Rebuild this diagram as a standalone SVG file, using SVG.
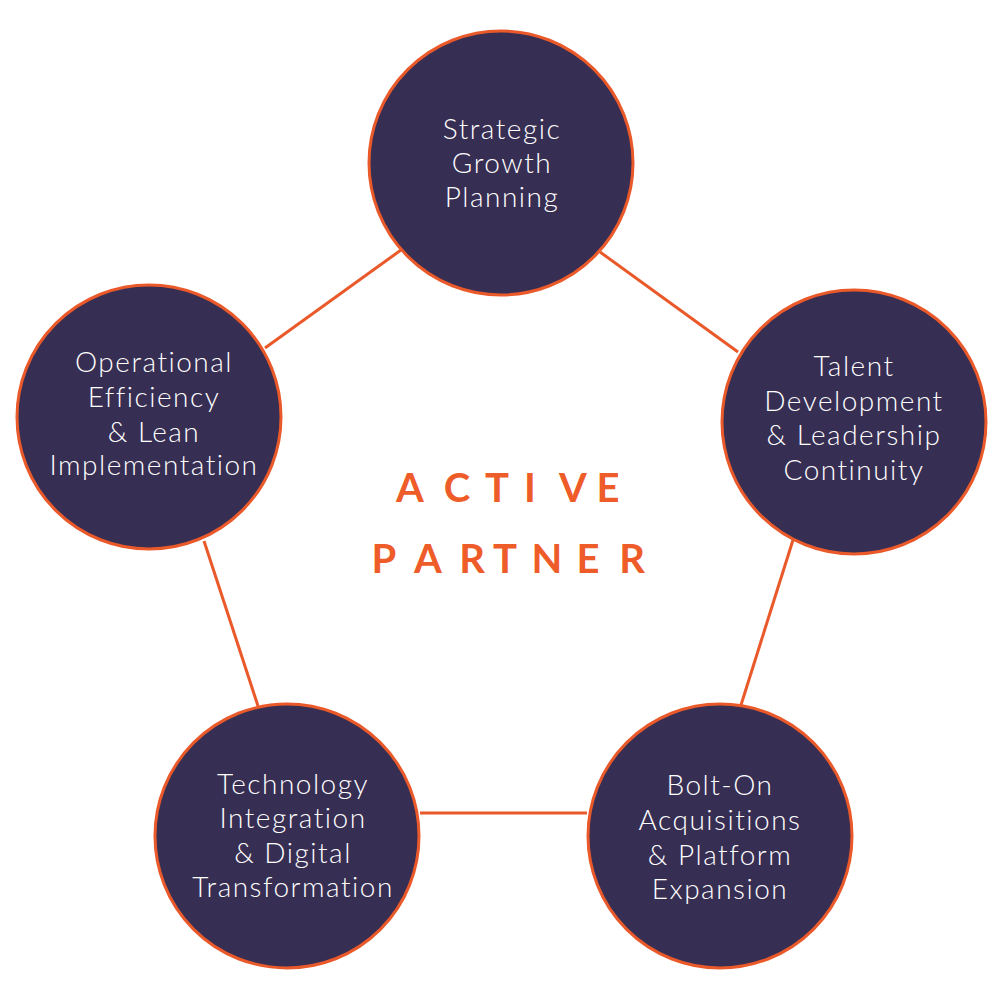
<svg xmlns="http://www.w3.org/2000/svg" width="1000" height="1000" viewBox="0 0 1000 1000">
<style>
.node{fill:#372e53;stroke:#e9592a;stroke-width:3}
.lbl{font-family:Lato,"Liberation Sans",sans-serif;font-weight:300;font-size:28px;letter-spacing:1.5px;fill:#ffffff;text-anchor:middle}
.conn{stroke:#e9592a;stroke-width:3;fill:none}
.title{font-family:Lato,"Liberation Sans",sans-serif;font-weight:700;font-size:40px;fill:#ee5c2a;text-anchor:middle}
</style>
<rect width="1000" height="1000" fill="#ffffff"/>
<g id="connectors">
<line class="conn" x1="401" y1="250" x2="265" y2="348"/>
<line class="conn" x1="600" y1="252" x2="738" y2="352"/>
<line class="conn" x1="793" y1="540" x2="741" y2="705"/>
<line class="conn" x1="420" y1="813" x2="587" y2="813"/>
<line class="conn" x1="204" y1="541" x2="258" y2="706"/>
</g>
<g id="node-strategic">
<circle class="node" cx="501" cy="163" r="132"/>
<text class="lbl"><tspan x="502" y="139">Strategic</tspan><tspan x="502" y="173">Growth</tspan><tspan x="502" y="207">Planning</tspan></text>
</g>
<g id="node-operational">
<circle class="node" cx="149" cy="417" r="132"/>
<text class="lbl"><tspan x="154" y="372">Operational</tspan><tspan x="154" y="407">Efficiency</tspan><tspan x="154" y="442">&amp; Lean</tspan><tspan x="154" y="475">Implementation</tspan></text>
</g>
<g id="node-talent">
<circle class="node" cx="854" cy="422" r="132"/>
<text class="lbl"><tspan x="854" y="376">Talent</tspan><tspan x="854" y="411">Development</tspan><tspan x="854" y="445">&amp; Leadership</tspan><tspan x="854" y="480">Continuity</tspan></text>
</g>
<g id="node-boltons">
<circle class="node" cx="720" cy="836" r="132"/>
<text class="lbl"><tspan x="720" y="795">Bolt-On</tspan><tspan x="720" y="830">Acquisitions</tspan><tspan x="720" y="865">&amp; Platform</tspan><tspan x="720" y="899">Expansion</tspan></text>
</g>
<g id="node-technology">
<circle class="node" cx="287" cy="836" r="132"/>
<text class="lbl"><tspan x="293" y="794">Technology</tspan><tspan x="293" y="828">Integration</tspan><tspan x="293" y="863">&amp; Digital</tspan><tspan x="293" y="897">Transformation</tspan></text>
</g>
<g id="center-title">
<text class="title" x="410 457 497 530 573 608" y="502">ACTIVE</text>
<text class="title" x="384 428 472 505 547 588 632" y="573">PARTNER</text>
</g>
</svg>
